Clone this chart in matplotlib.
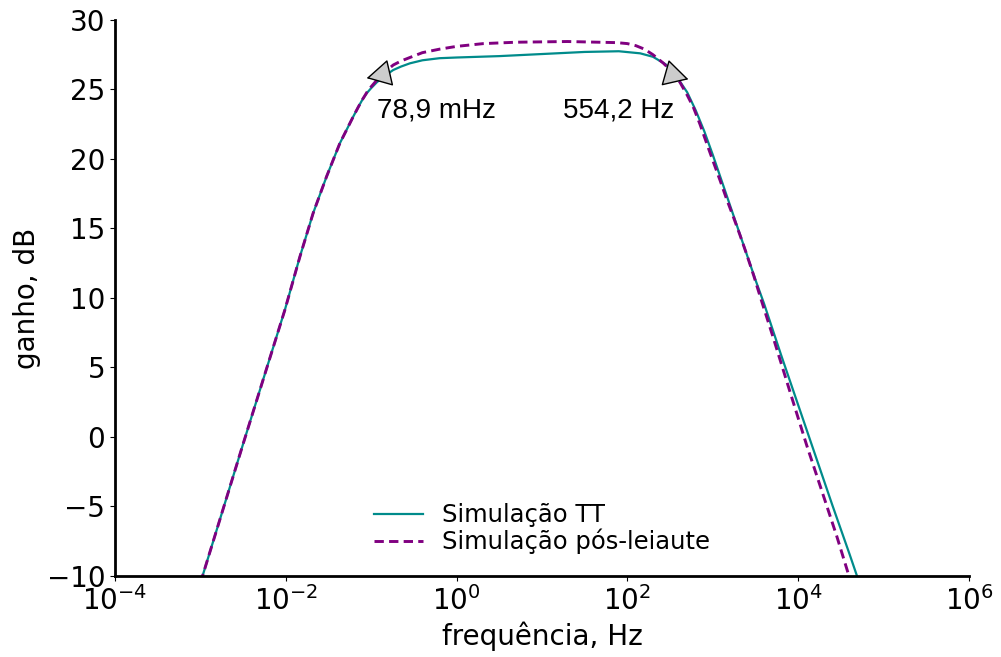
import numpy as np
import matplotlib
matplotlib.use('Agg')
import matplotlib.pyplot as plt

# simulacao TT: expoente da frequencia (log10 Hz) e ganho em dB
logf_tt = [-3.0, -2.5, -2.011, -1.835, -1.68, -1.523, -1.367, -1.211, -1.15,
           -1.1, -1.05, -1.0, -0.937, -0.85, -0.742, -0.65, -0.547, -0.4, -0.2,
           0.0, 0.5, 1.0, 1.5, 1.9, 2.15, 2.3, 2.45, 2.58, 2.70, 2.80, 2.9, 3.0,
           3.1, 3.2, 3.3, 3.4, 3.5, 3.6, 3.8, 4.0, 4.2, 4.4, 4.6, 4.7]
gain_tt = [-10.5, -0.5, 9.14, 12.97, 16.1, 18.73, 21.13, 23.04, 23.75,
           24.3, 24.75, 25.1, 25.5, 25.95, 26.4, 26.65, 26.88, 27.1, 27.25,
           27.3, 27.4, 27.55, 27.7, 27.75, 27.6, 27.35, 26.8, 25.9, 24.8, 23.5, 22.0, 20.3,
           18.5, 16.7, 14.9, 13.1, 11.3, 9.6, 5.9, 2.3, -1.3, -4.9, -8.4, -10.2]

# simulacao pos-leiaute
logf_pl = [-3.0, -2.5, -2.011, -1.835, -1.68, -1.523, -1.367, -1.211, -1.15,
           -1.1, -1.05, -1.0, -0.937, -0.85, -0.742, -0.65, -0.547, -0.4, -0.2,
           0.0, 0.313, 0.7, 1.3, 1.876, 2.0, 2.1, 2.2, 2.3, 2.42, 2.52, 2.617,
           2.70, 2.774, 2.85, 2.93, 3.0, 3.086, 3.16, 3.243, 3.32, 3.399, 3.48,
           3.555, 3.7, 3.927, 4.1, 4.278, 4.45, 4.59, 4.61]
gain_pl = [-10.5, -0.5, 9.14, 12.97, 16.1, 18.73, 21.13, 23.04, 23.75,
           24.3, 24.8, 25.2, 25.65, 26.2, 26.76, 27.05, 27.3, 27.65, 27.9,
           28.1, 28.3, 28.4, 28.45, 28.37, 28.3, 28.15, 27.9, 27.5, 26.9, 26.3, 25.5,
           24.6, 23.7, 22.5, 21.1, 19.9, 18.45, 17.15, 15.8, 14.5, 13.1, 11.6,
           10.1, 7.3, 2.8, -0.6, -3.9, -7.1, -9.9, -10.3]

# frequencias de corte (-3 dB)
corte_txt = ['78,9 mHz', '554,2 Hz']
corte_tip = [(0.0883, 25.81), (519, 25.73)]
corte_base = [(0.1585, 26.17), (290, 26.17)]
corte_txt_pos = [(0.1155, 23.0), (17.8, 23.0)]

freq_tt = 10.0 ** np.array(logf_tt)
freq_pl = 10.0 ** np.array(logf_pl)

fig = plt.figure(figsize=(10.01, 6.57), dpi=100)
ax = fig.add_axes([0.1149, 0.1233, 0.968 - 0.1149, 0.9696 - 0.1233])

ax.plot(freq_tt, gain_tt, color='darkcyan', lw=1.6, label='Simulação TT')
ax.plot(freq_pl, gain_pl, color='purple', lw=2.1, ls='--', dashes=(3.2, 1.8),
        label='Simulação pós-leiaute')

for txt, tip, base, pos in zip(corte_txt, corte_tip, corte_base, corte_txt_pos):
    ax.annotate('', xy=tip, xytext=base,
                arrowprops=dict(arrowstyle='-|>,head_length=0.8,head_width=0.44',
                                mutation_scale=20, fc='0.8', ec='black', lw=1,
                                shrinkA=0, shrinkB=0))
    ax.text(pos[0], pos[1], txt, fontsize=20, family='Liberation Sans',
            ha='left', va='baseline')

ax.set_xscale('log')
ax.set_xlim(1e-4, 1e6)
ax.set_ylim(-10, 30)
ax.set_xticks([1e-4, 1e-2, 1e0, 1e2, 1e4, 1e6])
ax.xaxis.set_minor_locator(matplotlib.ticker.NullLocator())
ax.set_yticks(np.arange(-10, 31, 5))

ax.spines['top'].set_visible(False)
ax.spines['right'].set_visible(False)
ax.spines['left'].set_linewidth(2)
ax.spines['bottom'].set_linewidth(2)
ax.tick_params(labelsize=20)

ax.set_xlabel('frequência, Hz', fontsize=20)
ax.set_ylabel('ganho, dB', fontsize=20)

ax.legend(loc='lower center', frameon=False, fontsize=17.5, labelspacing=0.05)

fig.savefig('out.png', dpi=100)
